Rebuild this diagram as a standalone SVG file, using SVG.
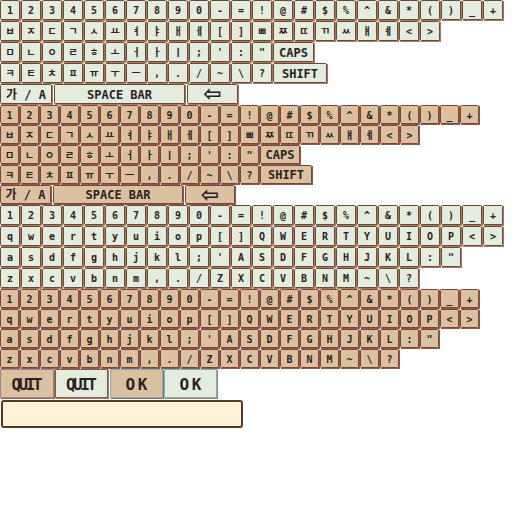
<svg xmlns="http://www.w3.org/2000/svg" width="512" height="512" viewBox="0 0 512 512">
<style>
.t{font-family:"DejaVu Sans Mono","Noto Sans CJK KR",monospace;font-weight:bold;font-size:10px;fill:#2b2121;text-anchor:middle}
.w{font-family:"DejaVu Sans Mono","Noto Sans CJK KR",monospace;font-weight:bold;font-size:12px;fill:#2b2121;text-anchor:middle}
.b{font-family:"DejaVu Sans Mono",monospace;font-weight:bold;font-size:16px;fill:#2b2121;text-anchor:middle}
.a{font-family:"DejaVu Sans",sans-serif;font-weight:bold;font-size:22px;fill:#2b2121;text-anchor:middle}
.mL{fill:#e4ebdf;stroke:#6e4636}
.sL{fill:#a57c62}
.mT{fill:#dcc1a0;stroke:#7b4539}
.sT{fill:#8c5a4c}
</style>
<defs>
<pattern id="pL" width="21" height="21" patternUnits="userSpaceOnUse">
<rect x="1" y="1" width="20" height="20" class="sL"/>
<rect x="0.5" y="0.5" width="19" height="19" rx="1" class="mL"/>
</pattern>
<pattern id="pT" width="20" height="20" patternUnits="userSpaceOnUse">
<rect x="1" y="1" width="19" height="19" class="sT"/>
<rect x="0.5" y="0.5" width="18" height="18" rx="1" class="mT"/>
</pattern>
</defs>
<rect width="512" height="512" fill="#ffffff"/>

<g id="blockA-korean-light">
<rect x="0" y="0" width="504" height="21" fill="url(#pL)"/>
<rect x="0" y="21" width="441" height="21" fill="url(#pL)"/>
<rect x="0" y="42" width="273" height="21" fill="url(#pL)"/>
<rect x="0" y="63" width="273" height="21" fill="url(#pL)"/>
<rect x="274" y="43" width="41" height="20" class="sL"/><rect x="273.5" y="42.5" width="40" height="19" rx="1" class="mL"/>
<rect x="274" y="64" width="54" height="20" class="sL"/><rect x="273.5" y="63.5" width="53" height="19" rx="1" class="mL"/>
<rect x="1" y="85" width="52" height="20" class="sL"/><rect x="0.5" y="84.5" width="51" height="19" rx="1" class="mL"/>
<rect x="55" y="85" width="131" height="20" class="sL"/><rect x="54.5" y="84.5" width="130" height="19" rx="1" class="mL"/>
<rect x="188" y="85" width="51" height="20" class="sL"/><rect x="187.5" y="84.5" width="50" height="19" rx="1" class="mL"/>
<text class="t" y="14" x="10 31 52 73 94 115 136 157 178 199 220 241 262 283 304 325 346 367 388 409 430 451 472 493">1234567890-=!@#$%^&amp;*()_+</text>
<text class="t" y="35" x="10 31 52 73 94 115 136 157 178 199 220 241 262 283 304 325 346 367 388 409 430 451 472 493">ㅂㅈㄷㄱㅅㅛㅕㅑㅐㅔ[]ㅃㅉㄸㄲㅆㅒㅖ&lt;&gt;</text>
<text class="t" y="56" x="10 31 52 73 94 115 136 157 178 199 220 241 262 283 304 325 346 367 388 409 430 451 472 493">ㅁㄴㅇㄹㅎㅗㅓㅏㅣ;':"</text>
<text class="t" y="77" x="10 31 52 73 94 115 136 157 178 199 220 241 262 283 304 325 346 367 388 409 430 451 472 493">ㅋㅌㅊㅍㅠㅜㅡ,./~\?</text>
<text class="w" x="293.5" y="56.5">CAPS</text>
<text class="w" x="300" y="77.5">SHIFT</text>
<text class="w" x="26" y="98.5">가 / A</text>
<text class="w" x="119.5" y="98.5">SPACE BAR</text>
<text class="a" x="212.5" y="101">⇦</text>
</g>

<g id="blockB-korean-tan" transform="translate(0,105)">
<rect x="0" y="0" width="480" height="20" fill="url(#pT)"/>
<rect x="0" y="20" width="420" height="20" fill="url(#pT)"/>
<rect x="0" y="40" width="260" height="20" fill="url(#pT)"/>
<rect x="0" y="60" width="260" height="20" fill="url(#pT)"/>
<rect x="261" y="41" width="40" height="19" class="sT"/><rect x="260.5" y="40.5" width="39" height="18" rx="1" class="mT"/>
<rect x="261" y="61" width="52" height="19" class="sT"/><rect x="260.5" y="60.5" width="51" height="18" rx="1" class="mT"/>
<rect x="1" y="81" width="51" height="19" class="sT"/><rect x="0.5" y="80.5" width="50" height="18" rx="1" class="mT"/>
<rect x="54" y="81" width="130" height="19" class="sT"/><rect x="53.5" y="80.5" width="129" height="18" rx="1" class="mT"/>
<rect x="186" y="81" width="50" height="19" class="sT"/><rect x="185.5" y="80.5" width="49" height="18" rx="1" class="mT"/>
<text class="t" y="13.5" x="9.5 29.5 49.5 69.5 89.5 109.5 129.5 149.5 169.5 189.5 209.5 229.5 249.5 269.5 289.5 309.5 329.5 349.5 369.5 389.5 409.5 429.5 449.5 469.5">1234567890-=!@#$%^&amp;*()_+</text>
<text class="t" y="33.5" x="9.5 29.5 49.5 69.5 89.5 109.5 129.5 149.5 169.5 189.5 209.5 229.5 249.5 269.5 289.5 309.5 329.5 349.5 369.5 389.5 409.5 429.5 449.5 469.5">ㅂㅈㄷㄱㅅㅛㅕㅑㅐㅔ[]ㅃㅉㄸㄲㅆㅒㅖ&lt;&gt;</text>
<text class="t" y="53.5" x="9.5 29.5 49.5 69.5 89.5 109.5 129.5 149.5 169.5 189.5 209.5 229.5 249.5 269.5 289.5 309.5 329.5 349.5 369.5 389.5 409.5 429.5 449.5 469.5">ㅁㄴㅇㄹㅎㅗㅓㅏㅣ;':"</text>
<text class="t" y="73.5" x="9.5 29.5 49.5 69.5 89.5 109.5 129.5 149.5 169.5 189.5 209.5 229.5 249.5 269.5 289.5 309.5 329.5 349.5 369.5 389.5 409.5 429.5 449.5 469.5">ㅋㅌㅊㅍㅠㅜㅡ,./~\?</text>
<text class="w" x="280" y="54">CAPS</text>
<text class="w" x="286" y="74">SHIFT</text>
<text class="w" x="25.5" y="94">가 / A</text>
<text class="w" x="118" y="94">SPACE BAR</text>
<text class="a" x="210" y="96.5">⇦</text>
</g>

<g id="blockC-latin-light" transform="translate(0,205)">
<rect x="0" y="0" width="504" height="21" fill="url(#pL)"/>
<rect x="0" y="21" width="504" height="21" fill="url(#pL)"/>
<rect x="0" y="42" width="462" height="21" fill="url(#pL)"/>
<rect x="0" y="63" width="420" height="21" fill="url(#pL)"/>
<text class="t" y="14" x="10 31 52 73 94 115 136 157 178 199 220 241 262 283 304 325 346 367 388 409 430 451 472 493">1234567890-=!@#$%^&amp;*()_+</text>
<text class="t" y="35" x="10 31 52 73 94 115 136 157 178 199 220 241 262 283 304 325 346 367 388 409 430 451 472 493">qwertyuiop[]QWERTYUIOP&lt;&gt;</text>
<text class="t" y="56" x="10 31 52 73 94 115 136 157 178 199 220 241 262 283 304 325 346 367 388 409 430 451 472 493">asdfghjkl;'ASDFGHJKL:"</text>
<text class="t" y="77" x="10 31 52 73 94 115 136 157 178 199 220 241 262 283 304 325 346 367 388 409 430 451 472 493">zxcvbnm,./ZXCVBNM~\?</text>
</g>

<g id="blockD-latin-tan" transform="translate(0,289)">
<rect x="0" y="0" width="480" height="20" fill="url(#pT)"/>
<rect x="0" y="20" width="480" height="20" fill="url(#pT)"/>
<rect x="0" y="40" width="440" height="20" fill="url(#pT)"/>
<rect x="0" y="60" width="400" height="20" fill="url(#pT)"/>
<text class="t" y="13.5" x="9.5 29.5 49.5 69.5 89.5 109.5 129.5 149.5 169.5 189.5 209.5 229.5 249.5 269.5 289.5 309.5 329.5 349.5 369.5 389.5 409.5 429.5 449.5 469.5">1234567890-=!@#$%^&amp;*()_+</text>
<text class="t" y="33.5" x="9.5 29.5 49.5 69.5 89.5 109.5 129.5 149.5 169.5 189.5 209.5 229.5 249.5 269.5 289.5 309.5 329.5 349.5 369.5 389.5 409.5 429.5 449.5 469.5">qwertyuiop[]QWERTYUIOP&lt;&gt;</text>
<text class="t" y="53.5" x="9.5 29.5 49.5 69.5 89.5 109.5 129.5 149.5 169.5 189.5 209.5 229.5 249.5 269.5 289.5 309.5 329.5 349.5 369.5 389.5 409.5 429.5 449.5 469.5">asdfghjkl;'ASDFGHJKL:"</text>
<text class="t" y="73.5" x="9.5 29.5 49.5 69.5 89.5 109.5 129.5 149.5 169.5 189.5 209.5 229.5 249.5 269.5 289.5 309.5 329.5 349.5 369.5 389.5 409.5 429.5 449.5 469.5">zxcvbnm,./ZXCVBNM~\?</text>
</g>

<g id="btn-quit-tan">
<rect x="1" y="370" width="54" height="29" fill="#8c6a5c"/>
<rect x="0.5" y="369.5" width="53" height="28" fill="#dcc1a0" stroke="#b07a90"/>
<text class="b" x="27" y="390" textLength="31">QUIT</text>
</g>
<g id="btn-quit-light">
<rect x="56" y="370" width="53" height="29" fill="#a57c62"/>
<rect x="55.5" y="369.5" width="52" height="28" fill="#e4ebdf" stroke="#8a5a48"/>
<text class="b" x="81.5" y="390" textLength="31">QUIT</text>
</g>
<g id="btn-ok-tan">
<rect x="111" y="370" width="53" height="29" fill="#8c6a5c"/>
<rect x="110.5" y="369.5" width="52" height="28" fill="#dcc1a0" stroke="#7fb0c0"/>
<text class="b" x="136.5" y="390" textLength="22">OK</text>
</g>
<g id="btn-ok-light">
<rect x="165" y="370" width="53" height="29" fill="#a57c62"/>
<rect x="164.5" y="369.5" width="52" height="28" fill="#e4ebdf" stroke="#7fb0c0"/>
<text class="b" x="190.5" y="390" textLength="22">OK</text>
</g>
<g id="text-field">
<rect x="2" y="401" width="240" height="26" rx="2" fill="#fff3d6" stroke="#56382a" stroke-width="2"/>
</g>
</svg>
